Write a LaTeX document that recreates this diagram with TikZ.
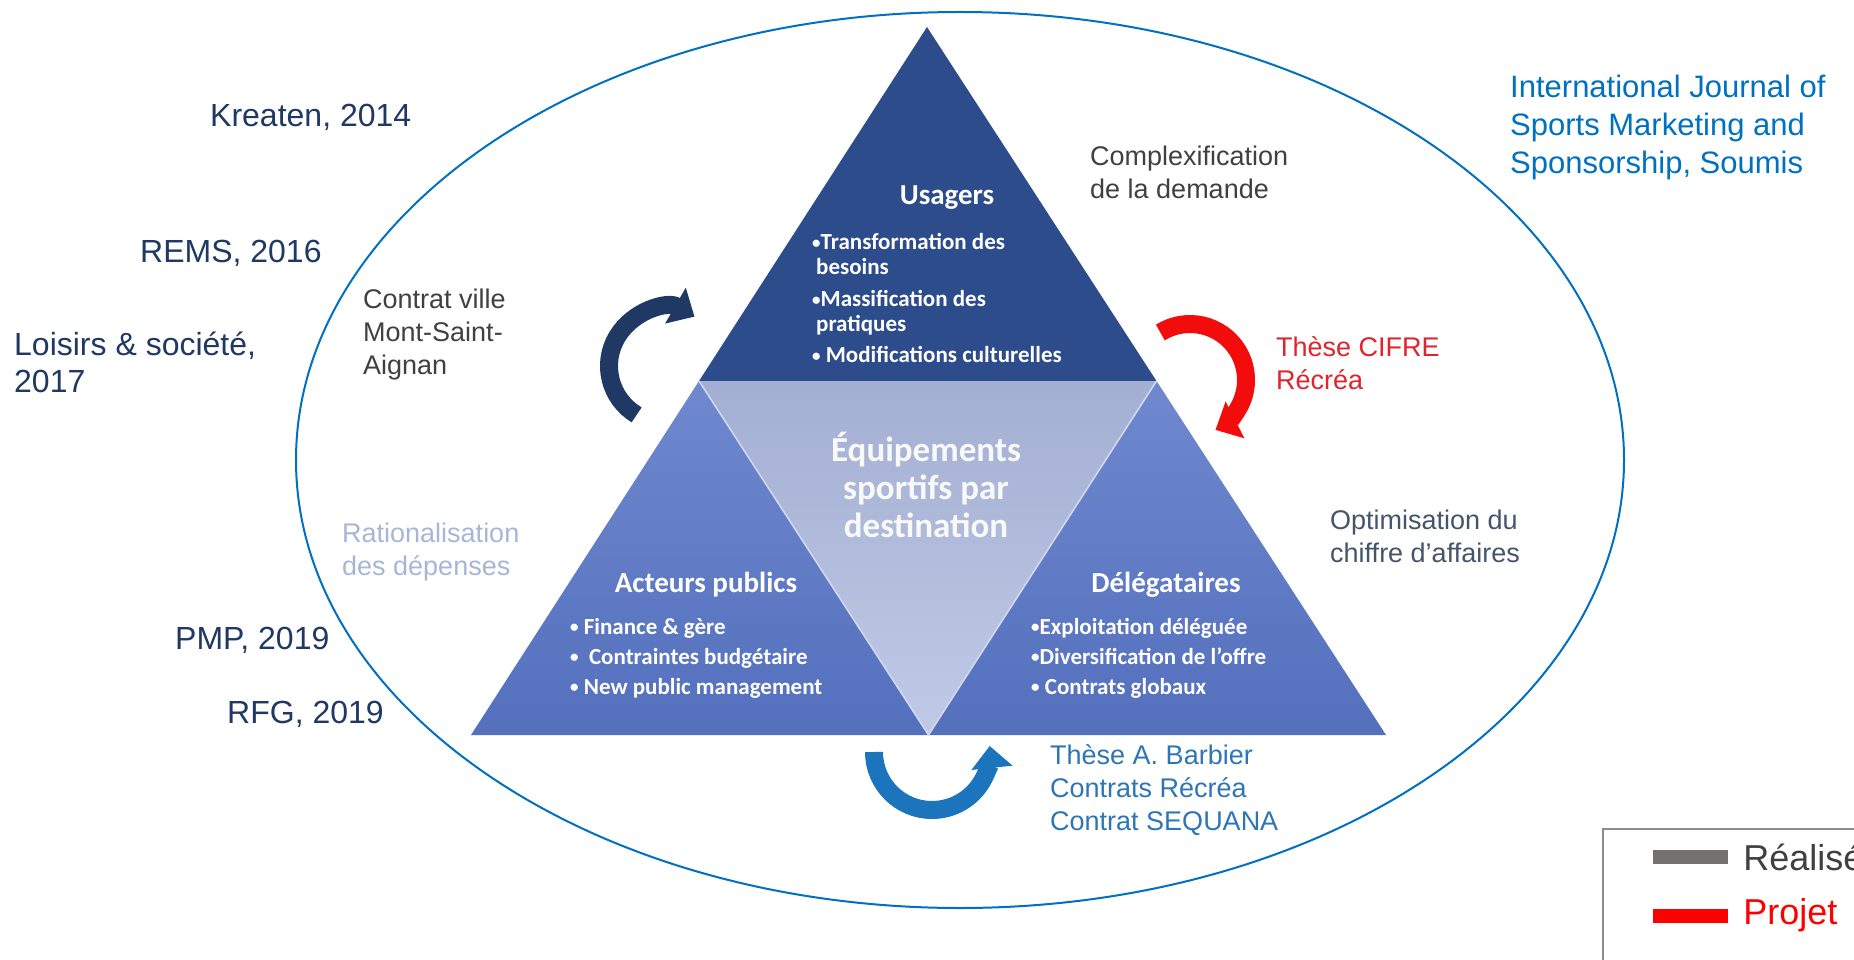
\documentclass[tikz,border=0pt]{standalone}
\usepackage{fontspec}
\setmainfont{Liberation Sans}
\newfontfamily\calib{Carlito}
\usetikzlibrary{arrows.meta}
\usetikzlibrary{positioning}

\definecolor{navytext}{HTML}{1F3864}
\definecolor{graytext}{HTML}{404040}
\definecolor{slatetext}{HTML}{44546A}
\definecolor{paletext}{HTML}{A7B5D7}
\definecolor{cifrered}{HTML}{E0232C}
\definecolor{barbblue}{HTML}{2E75B6}
\definecolor{journblue}{HTML}{0070C0}
\definecolor{ringblue}{HTML}{0070C0}
\definecolor{topblue}{HTML}{2D4C8C}
\definecolor{sidetop}{HTML}{6F88CE}
\definecolor{sidebot}{HTML}{5470BD}
\definecolor{centtop}{HTML}{A3AFD2}
\definecolor{centbot}{HTML}{C0CAE7}
\definecolor{arrnavy}{HTML}{1F3864}
\definecolor{arrred}{HTML}{F20C0C}
\definecolor{arrblue}{HTML}{1C75BC}
\definecolor{leggray}{HTML}{767171}
\definecolor{legframe}{HTML}{8C8C8C}

\newcommand{\tribul}{{\fontsize{17}{17}\selectfont\raisebox{1.5pt}{•}}}

\tikzstyle{ring} = [draw=ringblue, line width=2pt]
\tikzstyle{citetext} = [anchor=west, inner sep=0pt, text=navytext,
align=left, font=\fontsize{32}{37}\selectfont]
\tikzstyle{sidenote} = [anchor=west, inner sep=0pt,
align=left, font=\fontsize{27}{33}\selectfont]
\tikzstyle{trihead} = [inner sep=0pt, text=white,
font=\calib\bfseries\fontsize{29}{32}\selectfont]
\tikzstyle{trilist} = [anchor=west, inner sep=0pt, text=white,
align=left, font=\calib\bfseries\fontsize{23}{30}\selectfont]
\tikzstyle{bigarrow} = [line width=18pt, -{Triangle[width=40pt,length=22pt]}]
\tikzstyle{swatch} = [minimum width=75pt, minimum height=14pt, inner sep=0pt]
\tikzstyle{legtext} = [inner sep=0pt, anchor=west, font=\fontsize{36}{40}\selectfont]

\begin{document}
\begin{tikzpicture}[x=1pt,y=-1pt]

\useasboundingbox (0,0) rectangle (1854,960);
\clip (0,0) rectangle (1854,960);

\draw [ring] (960,460) ellipse [x radius=664, y radius=448];

\coordinate (apex) at (927,27);
\coordinate (base_l) at (471,735);
\coordinate (base_r) at (1386,735);
\coordinate (mid_l) at (699,381);
\coordinate (mid_r) at (1156.5,381);
\coordinate (mid_b) at (928.5,735);

\fill [topblue] (apex) -- (mid_l) -- (mid_r) -- cycle;
\shade [top color=sidetop, bottom color=sidebot] (mid_l) -- (base_l) -- (mid_b) -- cycle;
\shade [top color=sidetop, bottom color=sidebot] (mid_r) -- (mid_b) -- (base_r) -- cycle;
\shade [top color=centtop, bottom color=centbot] (mid_l) -- (mid_r) -- (mid_b) -- cycle;
\draw [white!70!sidetop, line width=1.5pt] (mid_l) -- (mid_b) -- (mid_r);

\node (usagers) [trihead] at (947,198) {Usagers};
\node (usagers_list) [trilist, font=\calib\bfseries\fontsize{23}{25}\selectfont] at (812,298) {
  \tribul Transformation des\\
  \hspace*{4pt}besoins\\[7pt]
  \tribul Massification des\\
  \hspace*{4pt}pratiques\\[6pt]
  \tribul\ Modifications culturelles
};

\node (acteurs) [trihead] at (706,585) {Acteurs publics};
\node (acteurs_list) [trilist] at (570,658) {
  \tribul\ Finance \& gère\\
  \tribul\ \ Contraintes budgétaire\\
  \tribul\ New public management
};

\node (delegataires) [trihead] at (1166,585) {Délégataires};
\node (delegataires_list) [trilist] at (1031,658) {
  \tribul Exploitation déléguée\\
  \tribul Diversification de l’offre\\
  \tribul\ Contrats globaux
};

\node (equipements) [inner sep=0pt, align=center, text=white!95!gray,
  font=\calib\bfseries\fontsize{35}{38}\selectfont] at (926,485) {
  Équipements\\
  sportifs par\\
  destination
};

\node (kreaten) [citetext] at (210,117) {Kreaten, 2014};
\node (rems) [citetext] at (140,253) {REMS, 2016};
\node (loisirs) [citetext] at (14,362) {Loisirs \& société,\\2017};
\node (pmp) [citetext] at (175,640) {PMP, 2019};
\node (rfg) [citetext] at (227,714) {RFG, 2019};

\node (contrat_ville) [sidenote, text=graytext] at (363,335) {
  Contrat ville\\
  Mont-Saint-\\
  Aignan
};
\node (complexif) [sidenote, text=graytext] at (1090,172) {
  Complexification\\
  de la demande
};
\node (these_cifre) [sidenote, text=cifrered] at (1276,363) {
  Thèse CIFRE\\
  Récréa
};
\node (optimisation) [sidenote, text=slatetext] at (1330,536) {
  Optimisation du\\
  chiffre d’affaires
};
\node (rationalisation) [sidenote, text=paletext] at (342,552) {
  Rationalisation\\
  des dépenses
};
\node (these_barbier) [sidenote, text=barbblue] at (1050,790) {
  Thèse A. Barbier\\
  Contrats Récréa\\
  Contrat SEQUANA
};
\node (journal) [sidenote, text=journblue, font=\fontsize{31}{38}\selectfont] at (1510,127) {
  International Journal of\\
  Sports Marketing and\\
  Sponsorship, Soumis
};

\draw [bigarrow, arrnavy] (666,366) ++(121:57) arc [start angle=121, end angle=300, radius=57];
\draw [bigarrow, arrred] (1190,380) ++(238:56) arc [start angle=238, end angle=423, radius=56];
\draw [bigarrow, arrblue] (932,752) ++(180:58) arc [start angle=180, end angle=-6, radius=58];

\draw [legframe, line width=2pt] (1603,829) rectangle (1900,1000);
\node (swatch_real) [swatch, fill=leggray] at (1690.5,857) {};
\node (swatch_proj) [swatch, fill=red] at (1690.5,915.5) {};
\node (leg_real) [legtext, text=graytext, right=15pt of swatch_real] {Réalisé};
\node (leg_proj) [legtext, text=red, right=15pt of swatch_proj] {Projet};

\end{tikzpicture}
\end{document}
